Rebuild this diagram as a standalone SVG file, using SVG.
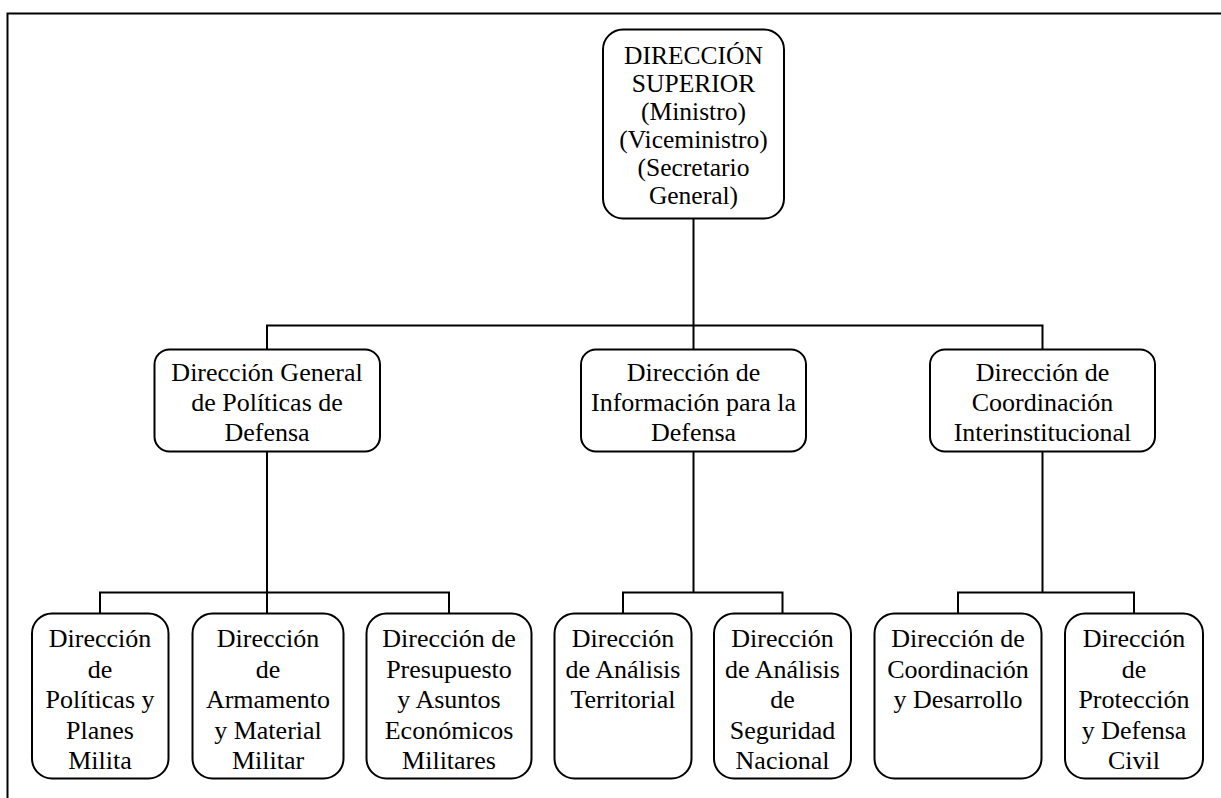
<svg xmlns="http://www.w3.org/2000/svg" width="1221" height="798" viewBox="0 0 1221 798">
<style>
.box{fill:#fff;stroke:#000;stroke-width:2}
.ln{fill:none;stroke:#000;stroke-width:2}
.t{font-size:26px;fill:#000;text-anchor:middle}
.tt{font-size:25.5px;fill:#000;text-anchor:middle}
</style>
<rect x="0" y="0" width="1221" height="798" fill="#fff"/>
<path class="ln" d="M7.5,800 V13.5 H1225" stroke-width="1.8"/>
<g id="connectors">
<path class="ln" d="M693.5,219 V349"/>
<path class="ln" d="M267,349 V325.5 H1042.5 V349"/>
<path class="ln" d="M267,452 V613"/>
<path class="ln" d="M100,613 V592.5 H449 V613"/>
<path class="ln" d="M693.5,452 V592.5"/>
<path class="ln" d="M623,613 V592.5 H782.5 V613"/>
<path class="ln" d="M1042.5,452 V592.5"/>
<path class="ln" d="M958,613 V592.5 H1134 V613"/>
</g>
<g font-family="Liberation Serif, Times New Roman, serif">
<g id="n-top">
<rect class="box" x="603" y="29.5" width="181" height="189" rx="20"/>
<text class="tt" x="693.5" y="64">DIRECCIÓN</text>
<text class="tt" x="693.5" y="92">SUPERIOR</text>
<text class="tt" x="693.5" y="120">(Ministro)</text>
<text class="tt" x="693.5" y="148">(Viceministro)</text>
<text class="tt" x="693.5" y="176">(Secretario</text>
<text class="tt" x="693.5" y="204">General)</text>
</g>
<g id="n-politicas">
<rect class="box" x="154.5" y="349.5" width="225.5" height="102" rx="15"/>
<text class="t" x="267" y="381">Dirección General</text>
<text class="t" x="267" y="411">de Políticas de</text>
<text class="t" x="267" y="441">Defensa</text>
</g>
<g id="n-informacion">
<rect class="box" x="581" y="349.5" width="225" height="102" rx="15"/>
<text class="t" x="693.5" y="381">Dirección de</text>
<text class="t" x="693.5" y="411">Información para la</text>
<text class="t" x="693.5" y="441">Defensa</text>
</g>
<g id="n-coordinacion">
<rect class="box" x="930" y="349.5" width="225" height="102" rx="15"/>
<text class="t" x="1042.5" y="381">Dirección de</text>
<text class="t" x="1042.5" y="411">Coordinación</text>
<text class="t" x="1042.5" y="441">Interinstitucional</text>
</g>
<g id="n-planes">
<rect class="box" x="32" y="613.5" width="136.5" height="165" rx="20"/>
<text class="t" x="100" y="647">Dirección</text>
<text class="t" x="100" y="677.5">de</text>
<text class="t" x="100" y="708">Políticas y</text>
<text class="t" x="100" y="738.5">Planes</text>
<text class="t" x="100" y="769">Milita</text>
</g>
<g id="n-armamento">
<rect class="box" x="192.5" y="613.5" width="151" height="165" rx="20"/>
<text class="t" x="268" y="647">Dirección</text>
<text class="t" x="268" y="677.5">de</text>
<text class="t" x="268" y="708">Armamento</text>
<text class="t" x="268" y="738.5">y Material</text>
<text class="t" x="268" y="769">Militar</text>
</g>
<g id="n-presupuesto">
<rect class="box" x="366.5" y="613.5" width="165" height="165" rx="20"/>
<text class="t" x="449" y="647">Dirección de</text>
<text class="t" x="449" y="677.5">Presupuesto</text>
<text class="t" x="449" y="708">y Asuntos</text>
<text class="t" x="449" y="738.5">Económicos</text>
<text class="t" x="449" y="769">Militares</text>
</g>
<g id="n-territorial">
<rect class="box" x="554.5" y="613.5" width="137" height="165" rx="20"/>
<text class="t" x="623" y="647">Dirección</text>
<text class="t" x="623" y="677.5">de Análisis</text>
<text class="t" x="623" y="708">Territorial</text>
</g>
<g id="n-seguridad">
<rect class="box" x="714" y="613.5" width="137" height="165" rx="20"/>
<text class="t" x="782.5" y="647">Dirección</text>
<text class="t" x="782.5" y="677.5">de Análisis</text>
<text class="t" x="782.5" y="708">de</text>
<text class="t" x="782.5" y="738.5">Seguridad</text>
<text class="t" x="782.5" y="769">Nacional</text>
</g>
<g id="n-desarrollo">
<rect class="box" x="874.5" y="613.5" width="167" height="165" rx="20"/>
<text class="t" x="958" y="647">Dirección de</text>
<text class="t" x="958" y="677.5">Coordinación</text>
<text class="t" x="958" y="708">y Desarrollo</text>
</g>
<g id="n-civil">
<rect class="box" x="1065" y="613.5" width="138" height="165" rx="20"/>
<text class="t" x="1134" y="647">Dirección</text>
<text class="t" x="1134" y="677.5">de</text>
<text class="t" x="1134" y="708">Protección</text>
<text class="t" x="1134" y="738.5">y Defensa</text>
<text class="t" x="1134" y="769">Civil</text>
</g>
</g>
</svg>
